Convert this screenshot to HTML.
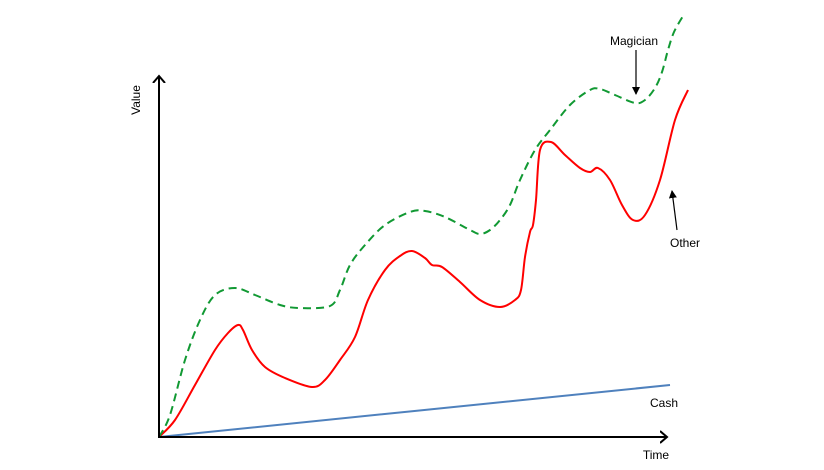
<!DOCTYPE html>
<html><head><meta charset="utf-8"><style>
html,body{margin:0;padding:0;background:#fff;width:824px;height:470px;overflow:hidden}
svg text{font-family:"Liberation Sans",Arial,sans-serif;font-size:12px;fill:#000}
</style></head><body>
<svg id="chart" width="824" height="470" viewBox="0 0 824 470">
<defs>
<marker id="ah" markerWidth="16" markerHeight="16" refX="7" refY="7" orient="auto" markerUnits="userSpaceOnUse"><path d="M0,1 L7,7 L0,13" fill="none" stroke="#000" stroke-width="2"/></marker>
<marker id="sa" markerWidth="8" markerHeight="8" refX="7" refY="4" orient="auto" markerUnits="userSpaceOnUse"><path d="M0,0 L8,4 L0,8 Z" fill="#000"/></marker>
</defs>
<g id="series"></g>
<line x1="159" y1="438" x2="159" y2="76" stroke="#000" stroke-width="2" marker-end="url(#ah)"/>
<line x1="158" y1="437" x2="667" y2="437" stroke="#000" stroke-width="2" marker-end="url(#ah)"/>
<text x="140" y="100" transform="rotate(-90 140 100)" text-anchor="middle">Value</text>
<text x="656" y="459" text-anchor="middle">Time</text>
<text x="664" y="407" text-anchor="middle">Cash</text>
<text x="634" y="45" text-anchor="middle">Magician</text>
<line x1="636" y1="50" x2="636" y2="94" stroke="#000" stroke-width="1.2" marker-end="url(#sa)"/>
<text x="685" y="247" text-anchor="middle">Other</text>
<line x1="677" y1="230" x2="672" y2="191" stroke="#000" stroke-width="1.2" marker-end="url(#sa)"/>
</svg>
<script>
const otherT=[0,16,36,56,69,79,84,93,106,126,153,166,181,196,209,226,241,253,266,273,283,301,321,341,356,362,366,371,374,377,381,392,406,421,431,439,451,463,474,486,501,516,529];
const otherV=[0,17,52,87,104,112,107,87,70,59,50,57,77,100,137,167,181,186,179,172,170,155,137,130,137,147,180,205,212,237,287,295,282,269,265,269,257,232,217,222,257,317,347];
const magicT=[0,11,26,41,56,76,96,121,141,171,181,191,206,226,251,266,286,311,321,331,341,351,361,376,391,411,431,441,456,476,486,496,503,509,515,524];
const magicV=[0,22,77,117,142,149,142,132,129,131,147,172,192,212,225,226,220,207,203,207,217,232,257,287,307,332,347,348,342,334,337,349,365,387,405,421];
const cashT=[0,511];
const cashV=[0,52];
const sx=t=>159+t, sy=v=>437-v;
function path(T,V){
  const p=T.map((t,i)=>[sx(t),sy(V[i])]);
  let d=`M${p[0][0]},${p[0][1]}`;
  for(let i=0;i<p.length-1;i++){
    const p0=p[Math.max(0,i-1)],p1=p[i],p2=p[i+1],p3=p[Math.min(p.length-1,i+2)];
    const c1=[p1[0]+(p2[0]-p0[0])/6,p1[1]+(p2[1]-p0[1])/6];
    const c2=[p2[0]-(p3[0]-p1[0])/6,p2[1]-(p3[1]-p1[1])/6];
    d+=` C${c1[0]},${c1[1]} ${c2[0]},${c2[1]} ${p2[0]},${p2[1]}`;
  }
  return d;
}
const g=document.getElementById('series');
function add(T,V,color,name,dash){
  const el=document.createElementNS('http://www.w3.org/2000/svg','path');
  el.setAttribute('d',path(T,V));
  el.setAttribute('fill','none');
  el.setAttribute('stroke',color);
  el.setAttribute('stroke-width','2');
  if(dash)el.setAttribute('stroke-dasharray',dash);
  
  
  g.appendChild(el);
}
add(cashT,cashV,'#4f81bd','cash-line');
add(otherT,otherV,'#ff0000','other-line');
add(magicT,magicV,'#119933','magician-line','8 5');
</script>
</body></html>
